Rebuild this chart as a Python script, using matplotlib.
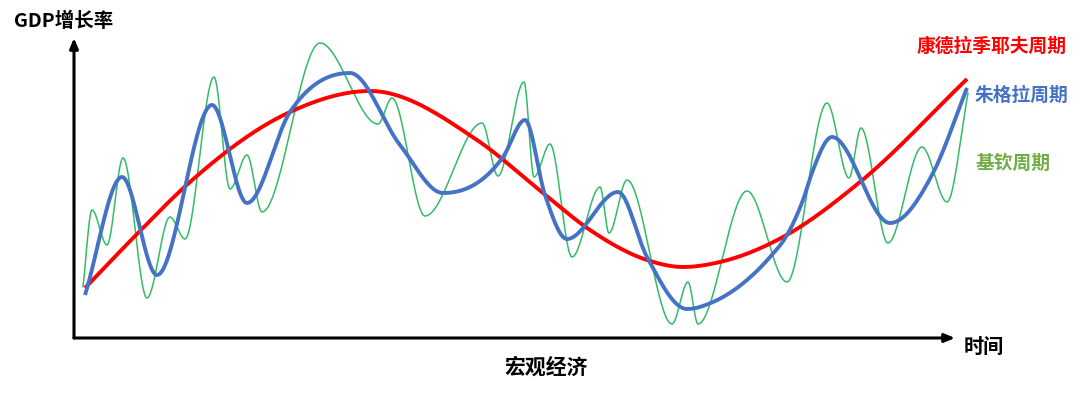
import numpy as np
import matplotlib
matplotlib.use("Agg")
import matplotlib.pyplot as plt

plt.rcParams['font.family'] = ['Noto Sans CJK SC', 'DejaVu Sans']

# ---- data (time units from origin, value = height above time axis) ----
kond_t = [11, 64, 116, 216, 296, 403, 469, 516, 573, 609, 646, 709, 786, 893]
kond_v = [50, 105, 156, 226, 247, 198, 145, 108, 78, 71, 76, 101, 156, 259]

jug_t = [11, 48, 83, 138, 173, 216, 276, 326, 369, 429, 451, 471, 493, 544,
         573, 613, 639, 673, 696, 713, 729, 739, 758, 816, 859, 893]
jug_v = [43, 161, 63, 233, 135, 226, 265, 193, 145, 181, 218, 143, 99, 146,
         81, 29, 36, 58, 81, 103, 138, 168, 201, 115, 165, 250]

kit_t = [9, 18, 33, 49, 73, 96, 111, 140, 156, 173, 188, 246, 304, 318, 351,
         408, 424, 450, 460, 476, 498, 526, 535, 553, 598, 614, 624, 673, 713,
         753, 775, 787, 814, 848, 873, 894]
kit_v = [51, 128, 93, 180, 40, 121, 99, 261, 149, 183, 126, 295, 214, 240, 122,
         215, 162, 256, 161, 194, 81, 151, 105, 158, 14, 56, 14, 147, 56,
         235, 160, 210, 95, 191, 136, 245]

labels = ['康德拉季耶夫周期', '朱格拉周期', '基钦周期']
colors = ['#FF0000', '#4472C4', '#33BB66']
label_colors = ['#FF0000', '#4472C4', '#70AD47']


def smooth_line(x, y, n=2000):
    """Smooth Hermite rendering through points: flat at turning points,
    centred (limited) slopes elsewhere."""
    x = np.asarray(x, float)
    y = np.asarray(y, float)
    h = np.diff(x)
    d = np.diff(y) / h
    m = np.zeros_like(y)
    for i in range(1, len(x) - 1):
        if d[i - 1] * d[i] > 0:
            s = (h[i] * d[i - 1] + h[i - 1] * d[i]) / (h[i - 1] + h[i])
            lim = 3 * min(abs(d[i - 1]), abs(d[i]))
            m[i] = np.sign(s) * min(abs(s), lim)
    m[0] = d[0]
    m[-1] = d[-1]
    xs = np.linspace(x[0], x[-1], n)
    idx = np.clip(np.searchsorted(x, xs) - 1, 0, len(x) - 2)
    t = (xs - x[idx]) / h[idx]
    h00 = 2 * t**3 - 3 * t**2 + 1
    h10 = t**3 - 2 * t**2 + t
    h01 = -2 * t**3 + 3 * t**2
    h11 = t**3 - t**2
    ys = h00 * y[idx] + h10 * h[idx] * m[idx] + h01 * y[idx + 1] + h11 * h[idx] * m[idx + 1]
    return xs, ys


W, H = 1080, 393
fig = plt.figure(figsize=(W / 100, H / 100), dpi=100)
fig.patch.set_facecolor('white')

ox, oy = 74, 338          # origin in pixels
ax_w, ax_h = 900, 300
ax = fig.add_axes([ox / W, (H - oy) / H, ax_w / W, ax_h / H])
ax.set_xlim(0, ax_w)
ax.set_ylim(0, ax_h)
ax.axis('off')

# axes arrows
ax.annotate('', xy=(881, 0), xytext=(0, 0), xycoords='data',
            arrowprops=dict(arrowstyle='-|>,head_length=0.6,head_width=0.25',
                            lw=2.2, color='black', shrinkA=0, shrinkB=0),
            annotation_clip=False)
ax.annotate('', xy=(0, 300), xytext=(0, 0), xycoords='data',
            arrowprops=dict(arrowstyle='-|>,head_length=0.6,head_width=0.25',
                            lw=2.2, color='black', shrinkA=0, shrinkB=0),
            annotation_clip=False)

xs, ys = smooth_line(kit_t, kit_v)
ax.plot(xs, ys, color=colors[2], lw=1.1, clip_on=False, solid_capstyle='round')
xs, ys = smooth_line(kond_t, kond_v)
ax.plot(xs, ys, color=colors[0], lw=2.8, clip_on=False, solid_capstyle='butt')
xs, ys = smooth_line(jug_t, jug_v)
ax.plot(xs, ys, color=colors[1], lw=2.8, clip_on=False, solid_capstyle='butt')

# texts (figure fractions from pixel positions)
def fx(px):
    return px / W

def fy(py):
    return 1 - py / H

fig.text(fx(14), fy(21), 'GDP增长率', ha='left', va='center', fontsize=14,
         fontweight='bold', color='black')
fig.text(fx(917), fy(46.5), labels[0], ha='left', va='center', fontsize=13.5,
         fontweight='bold', color=label_colors[0])
fig.text(fx(975), fy(95), labels[1], ha='left', va='center', fontsize=13.5,
         fontweight='bold', color=label_colors[1])
fig.text(fx(976), fy(163.5), labels[2], ha='left', va='center', fontsize=13.5,
         fontweight='bold', color=label_colors[2])
fig.text(fx(964), fy(346), '时间', ha='left', va='center', fontsize=14.5,
         fontweight='bold', color='black')
fig.text(fx(546), fy(367.5), '宏观经济', ha='center', va='center', fontsize=15,
         fontweight='bold', color='black')

fig.savefig('out.png', dpi=100, facecolor='white')
